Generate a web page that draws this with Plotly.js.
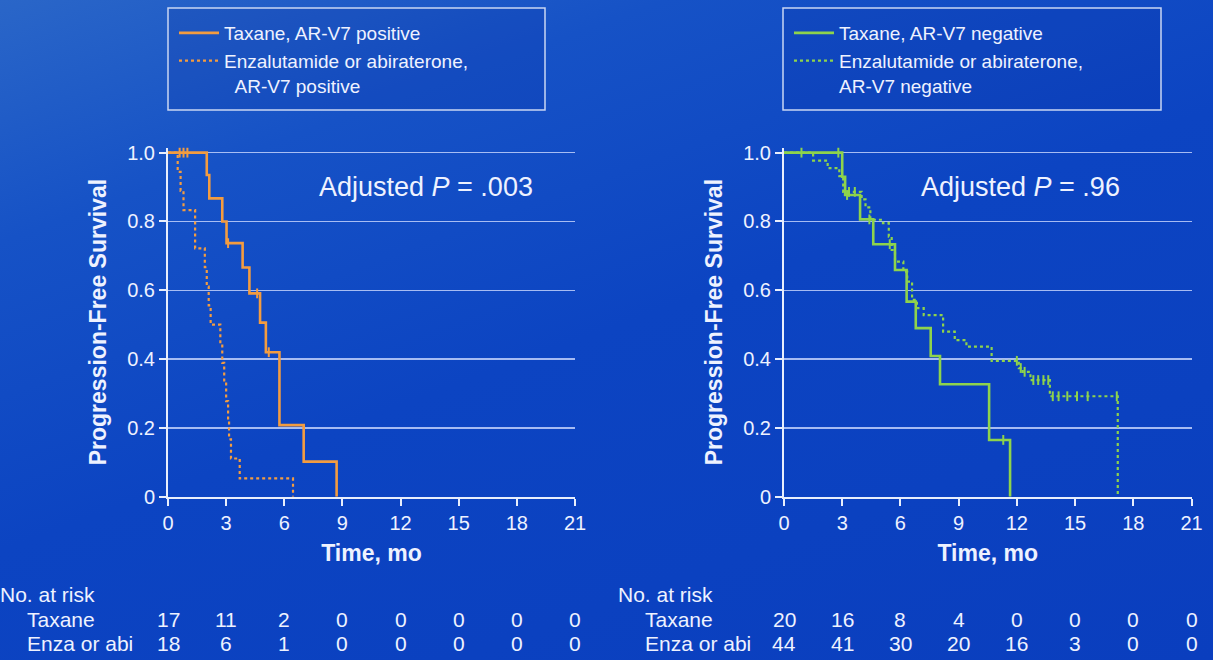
<!DOCTYPE html>
<html>
<head>
<meta charset="utf-8">
<script src="https://cdn.plot.ly/plotly-3.0.1.min.js"></script>
<style>
  html, body { margin:0; padding:0; width:1213px; height:660px; overflow:hidden; }
  body { background: linear-gradient(160deg, #2a66c8 0%, #1652c6 22%, #0c44c2 50%, #0a3ebe 100%); }
  #chart { width:1213px; height:660px; }
</style>
</head>
<body>
<div id="chart"></div>
<script>
// ---------- DATA ----------
// Left panel: AR-V7 positive
const posTaxaneT = [0, 2.0, 2.13, 2.8, 3.02, 3.85, 4.2, 4.75, 5.05, 5.75, 7.0, 8.7];
const posTaxaneS = [1, 0.935, 0.867, 0.80, 0.737, 0.666, 0.591, 0.506, 0.42, 0.208, 0.102, 0];
const posTaxaneCensT = [0.6, 0.8, 1.0, 3.1, 4.6, 5.2];
const posTaxaneCensS = [1, 1, 1, 0.737, 0.591, 0.42];

const posEnzaT = [0, 0.5, 0.65, 0.8, 1.4, 1.9, 2.0, 2.1, 2.2, 2.7, 2.8, 2.9, 3.0, 3.1, 3.15, 3.25, 3.7, 6.45];
const posEnzaS = [1, 0.944, 0.889, 0.833, 0.722, 0.667, 0.611, 0.556, 0.5, 0.444, 0.389, 0.333, 0.278, 0.222, 0.167, 0.111, 0.053, 0];

// Right panel: AR-V7 negative
const negTaxaneT = [0, 3.0, 3.15, 3.92, 4.6, 5.72, 6.32, 6.79, 7.56, 8.04, 10.57, 11.65];
const negTaxaneS = [1, 0.93, 0.877, 0.806, 0.734, 0.659, 0.567, 0.49, 0.409, 0.327, 0.165, 0];
const negTaxaneCensT = [0.9, 2.8, 3.25, 4.4, 5.45, 11.3];
const negTaxaneCensS = [1, 1, 0.877, 0.806, 0.734, 0.165];

const negEnzaT = [0, 1.5, 2.25, 2.85, 3.05, 4.0, 4.2, 4.45, 5.1, 5.4, 5.55, 5.72, 6.15, 6.35, 6.6, 6.85, 7.2, 8.2, 8.8, 9.4, 10.7, 12.1, 12.3, 12.7, 13.7, 17.2];
const negEnzaS = [1, 0.977, 0.955, 0.932, 0.886, 0.864, 0.841, 0.805, 0.795, 0.756, 0.717, 0.683, 0.654, 0.625, 0.572, 0.548, 0.528, 0.48, 0.455, 0.436, 0.395, 0.374, 0.363, 0.339, 0.292, 0];
const negEnzaCensT = [3.35, 3.65, 12.0, 12.2, 12.4, 12.85, 13.1, 13.37, 13.62, 13.85, 14.15, 14.6, 15.1, 15.65, 17.15];
const negEnzaCensS = [0.886, 0.886, 0.395, 0.374, 0.363, 0.339, 0.339, 0.339, 0.339, 0.292, 0.292, 0.292, 0.292, 0.292, 0.292];

// At-risk table
const riskTimes = [0, 3, 6, 9, 12, 15, 18, 21];
const posRiskTaxane = [17, 11, 2, 0, 0, 0, 0, 0];
const posRiskEnza = [18, 6, 1, 0, 0, 0, 0, 0];
const negRiskTaxane = [20, 16, 8, 4, 0, 0, 0, 0];
const negRiskEnza = [44, 41, 30, 20, 16, 3, 0, 0];

const xTicks = [0, 3, 6, 9, 12, 15, 18, 21];
const yTicks = [0, 0.2, 0.4, 0.6, 0.8, 1.0];
const yTickText = ['0', '0.2', '0.4', '0.6', '0.8', '1.0'];

const legendNames = {
  posTaxane: 'Taxane, AR-V7 positive',
  posEnza: 'Enzalutamide or abiraterone,<br>&nbsp;&nbsp;AR-V7 positive',
  negTaxane: 'Taxane, AR-V7 negative',
  negEnza: 'Enzalutamide or abiraterone,<br>AR-V7 negative'
};
const pValues = ['Adjusted <i>P</i> = .003', 'Adjusted <i>P</i> = .96'];

// ---------- STYLE ----------
const FONT = 'Liberation Sans, Arial, sans-serif';
const TXT = '#eef2ff';
const ORANGE = '#f39c40';
const GREEN = '#8ed34c';

function stepTrace(t, s, color, dash, name, xa, ya, leg) {
  return { x: t, y: s, type: 'scatter', mode: 'lines', name: name,
    line: { shape: 'hv', color: color, width: dash === 'solid' ? 2.6 : 2.2, dash: dash },
    xaxis: xa, yaxis: ya, legend: leg, hoverinfo: 'skip', cliponaxis: false };
}
function censTrace(t, s, color, xa, ya) {
  return { x: t, y: s, type: 'scatter', mode: 'markers', showlegend: false,
    marker: { symbol: 'line-ns', size: 7, line: { color: color, width: 2 } },
    xaxis: xa, yaxis: ya, hoverinfo: 'skip', cliponaxis: false };
}

const traces = [
  stepTrace(posTaxaneT, posTaxaneS, ORANGE, 'solid', legendNames.posTaxane, 'x', 'y', 'legend'),
  stepTrace(posEnzaT, posEnzaS, ORANGE, 'dot', legendNames.posEnza, 'x', 'y', 'legend'),
  censTrace(posTaxaneCensT, posTaxaneCensS, ORANGE, 'x', 'y'),
  stepTrace(negTaxaneT, negTaxaneS, GREEN, 'solid', legendNames.negTaxane, 'x2', 'y2', 'legend2'),
  stepTrace(negEnzaT, negEnzaS, GREEN, 'dot', legendNames.negEnza, 'x2', 'y2', 'legend2'),
  censTrace(negTaxaneCensT, negTaxaneCensS, GREEN, 'x2', 'y2'),
  censTrace(negEnzaCensT, negEnzaCensS, GREEN, 'x2', 'y2')
];

const W = 1213, H = 660;
const yDom = [1 - 496.7 / H, 1 - 147.5 / H];

function xaxis(dom, anchor) {
  return { domain: dom, anchor: anchor, range: [0, 21], tickvals: xTicks, ticktext: xTicks.map(String),
    showgrid: false, zeroline: false, showline: true, linecolor: '#e8eefc', linewidth: 2,
    ticks: 'outside', ticklen: 7, tickwidth: 2, tickcolor: '#e8eefc',
    tickfont: { family: FONT, size: 20, color: TXT },
    title: { text: '<b>Time, mo</b>', font: { family: FONT, size: 23, color: TXT }, standoff: 12 },
    fixedrange: true };
}
function yaxis(anchor) {
  return { domain: yDom, anchor: anchor, range: [0, 1.015], tickvals: yTicks, ticktext: yTickText,
    showgrid: true, gridcolor: 'rgba(205,218,255,0.8)', gridwidth: 1.5,
    zeroline: false, showline: true, linecolor: '#e8eefc', linewidth: 2,
    ticks: 'outside', ticklen: 7, tickwidth: 2, tickcolor: '#e8eefc',
    tickfont: { family: FONT, size: 20, color: TXT },
    title: { text: '<b>Progression-Free Survival</b>', font: { family: FONT, size: 23, color: TXT }, standoff: 14 },
    fixedrange: true };
}

const annotations = [];
// p-value annotations
annotations.push({ xref: 'x', yref: 'y', x: 13.3, y: 0.9, text: pValues[0], showarrow: false,
  font: { family: FONT, size: 27, color: TXT } });
annotations.push({ xref: 'x2', yref: 'y2', x: 12.2, y: 0.9, text: pValues[1], showarrow: false,
  font: { family: FONT, size: 27, color: TXT } });

// at-risk tables
const RISK_FS = 21;
function riskTable(xref, leftPx, rows) {
  annotations.push({ xref: 'paper', yref: 'paper', x: leftPx / W, y: 1 - 594 / H, xanchor: 'left', yanchor: 'middle',
    text: 'No. at risk', showarrow: false, font: { family: FONT, size: RISK_FS, color: TXT } });
  rows.forEach((r, i) => {
    const yy = 1 - (619 + i * 24) / H;
    annotations.push({ xref: 'paper', yref: 'paper', x: (leftPx + 27) / W, y: yy, xanchor: 'left', yanchor: 'middle',
      text: r.label, showarrow: false, font: { family: FONT, size: RISK_FS, color: TXT } });
    r.vals.forEach((v, j) => {
      annotations.push({ xref: xref, yref: 'paper', x: riskTimes[j], y: yy, xanchor: 'center', yanchor: 'middle',
        text: String(v), showarrow: false, font: { family: FONT, size: RISK_FS, color: TXT } });
    });
  });
}
riskTable('x', -2, [{ label: 'Taxane', vals: posRiskTaxane }, { label: 'Enza or abi', vals: posRiskEnza }]);
riskTable('x2', 616, [{ label: 'Taxane', vals: negRiskTaxane }, { label: 'Enza or abi', vals: negRiskEnza }]);

const shapes = [
  { type: 'rect', xref: 'paper', yref: 'paper', x0: 168 / W, x1: 545 / W, y0: 1 - 110 / H, y1: 1 - 8 / H,
    line: { color: '#c9d6f4', width: 1.5 }, fillcolor: 'rgba(0,25,140,0.12)', layer: 'below' },
  { type: 'rect', xref: 'paper', yref: 'paper', x0: 783 / W, x1: 1161 / W, y0: 1 - 110 / H, y1: 1 - 8 / H,
    line: { color: '#c9d6f4', width: 1.5 }, fillcolor: 'rgba(0,25,140,0.12)', layer: 'below' }
];

function legendCfg(xpx) {
  return { x: xpx / W, y: 1 - 14 / H, xanchor: 'left', yanchor: 'top', orientation: 'v',
    bgcolor: 'rgba(0,0,0,0)', borderwidth: 0, valign: 'top', tracegroupgap: 0, itemwidth: 40,
    font: { family: FONT, size: 19, color: TXT } };
}

const layout = {
  width: W, height: H,
  margin: { l: 0, r: 0, t: 0, b: 0 },
  paper_bgcolor: 'rgba(0,0,0,0)', plot_bgcolor: 'rgba(0,0,0,0)',
  font: { family: FONT, color: TXT },
  showlegend: true,
  xaxis: xaxis([168 / W, 575 / W], 'y'),
  yaxis: yaxis('x'),
  xaxis2: xaxis([784 / W, 1191.5 / W], 'y2'),
  yaxis2: yaxis('x2'),
  legend: legendCfg(174),
  legend2: legendCfg(789),
  annotations: annotations,
  shapes: shapes
};

Plotly.newPlot('chart', traces, layout, { displayModeBar: false, staticPlot: true });
</script>
</body>
</html>
